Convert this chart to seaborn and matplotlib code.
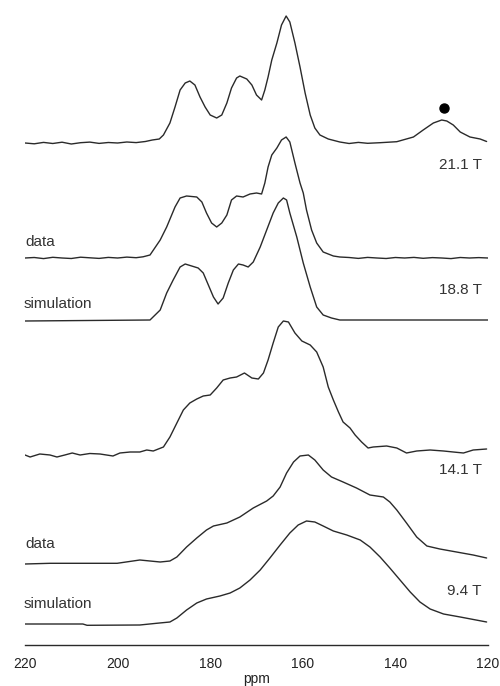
import numpy as np
import pandas as pd
import matplotlib
matplotlib.use("Agg")
import matplotlib.pyplot as plt
import seaborn as sns

# --- spectra (ppm, intensity above own baseline, arb. units) ---
ppm_211 = [220, 218, 216, 214, 212, 210, 208, 206, 204, 202, 200, 198, 196, 194, 192.5, 191,
           190.1, 188.7, 187.6, 186.5, 185.4, 184.4, 183.3, 182.2, 181.1, 180.0, 178.6, 177.5,
           176.4, 175.4, 174.3, 173.6, 172.1, 171.0, 170.0, 168.9, 168.2, 167.5, 166.7, 165.6,
           164.6, 163.6, 162.8, 161.7, 160.6, 159.5, 158.4, 157.4, 156.3, 154.5, 152.0, 150,
           148, 146, 143.3, 139.7, 136.1, 134.0, 131.8, 130.0, 128.9, 127.5, 126.0, 123.9,
           121.7, 120.3]
int_211 = [0, -0.8, 0.6, -0.5, 0.8, -1, 0.3, 0.9, -0.4, 0.5, 0, 1, 0.4, 1.5, 3, 4,
           8, 20, 36, 53, 60, 62, 58, 46, 36, 28, 25, 28,
           40, 55, 65, 67, 64, 58, 48, 43, 53, 66, 83, 100,
           118, 127, 121, 100, 76, 50, 28, 15, 8, 4, 1, -0.5,
           0.6, -0.3, 0.3, 1.3, 6, 13, 20, 23, 22, 18, 11, 6,
           4, 1.5]

ppm_188_data = [220, 218, 216, 214, 212, 210, 208, 206, 204, 202, 200, 198, 196, 194.5, 193.0,
                190.8, 189.4, 187.6, 186.5, 185.1, 182.9, 181.8, 180.8, 179.7, 178.6, 177.5,
                176.4, 175.4, 174.3, 172.9, 171.4, 170.0, 168.9, 168.2, 167.5, 166.7, 165.6,
                164.6, 163.6, 162.8, 161.7, 160.6, 159.9, 159.2, 158.1, 157.0, 155.6, 153.4,
                152.0, 150, 148, 146, 144, 142, 140, 138, 136, 134, 132, 130, 128, 126, 124,
                122, 120]
int_188_data = [0, 0.5, -0.6, 0.7, 0, -0.5, 0.8, 0.2, -0.4, 0.6, 0, 0.9, 0.3, 1.2, 3,
                18, 31, 51, 60, 62, 61, 56, 45, 35, 31, 35,
                43, 58, 62, 61, 64, 65, 64, 75, 91, 103, 110,
                118, 121, 116, 95, 75, 65, 48, 28, 15, 6, 2,
                1, 0.5, -0.4, 0.6, 0, -0.5, 0.5, 0, 0.6, -0.3, 0.4, 0, -0.6, 0.5, 0,
                0.4, 0]

ppm_188_sim = [220, 193.0, 190.8, 189.4, 188.0, 186.5, 185.4, 184.0, 182.6, 181.5, 180.4,
               179.3, 178.3, 177.2, 176.1, 175.0, 173.9, 172.9, 171.8, 170.7, 169.2, 167.8,
               166.4, 165.3, 164.2, 163.5, 162.8, 161.3, 159.9, 158.4, 157.0, 155.6, 153.8,
               152.0, 120]
int_188_sim = [0, 1, 11, 28, 41, 54, 57, 55, 53, 48, 36,
               24, 17, 23, 38, 51, 57, 56, 54, 59, 74, 91,
               108, 118, 123, 121, 108, 84, 58, 34, 14, 6, 3,
               1, 1]

ppm_141 = [220, 218.9, 216.8, 214.6, 213.1, 211.4, 209.8, 208.1, 206.0, 203.8, 201.0, 199.5,
           197.3, 195.2, 193.7, 192.3, 190.1, 188.7, 187.2, 185.8, 184.4, 182.9, 181.5, 180.0,
           178.6, 177.2, 175.7, 174.3, 172.6, 171.0, 169.6, 168.5, 167.5, 166.4, 165.3, 164.2,
           163.1, 161.7, 160.2, 158.4, 157.0, 155.6, 154.5, 153.4, 152.3, 151.3, 149.8, 148.7,
           147.3, 145.9, 144.8, 141.9, 139.7, 137.6, 135.4, 132.5, 129.6, 127.5, 125.3, 123.2,
           120.3]
int_141 = [0, -2, 1, 0, -2, 0, 2, 0, 1.5, 1, -1, 2,
           3, 3, 5, 4, 8, 18, 32, 45, 52, 56, 59, 60,
           67, 75, 77, 78, 82, 77, 76, 82, 95, 112, 128, 134,
           133, 122, 114, 110, 103, 88, 68, 55, 43, 33, 27, 20,
           13, 7, 8, 9, 7, 2, 4, 5, 4, 3, 2, 5,
           6]

ppm_94_data = [220, 214.6, 200.1, 195.2, 193.0, 190.8, 188.7, 187.2, 185.1, 182.9, 180.8,
               179.3, 176.4, 173.6, 170.7, 167.8, 166.4, 164.9, 163.5, 162.0, 160.6, 158.8,
               157.4, 155.6, 153.8, 151.3, 148.4, 145.5, 142.6, 141.2, 139.7, 137.6, 135.4,
               133.2, 130.4, 126.8, 123.2, 120.3]
int_94_data = [0, 0.7, 0.7, 4, 3, 2, 3, 7, 17, 26, 34,
               38, 41, 47, 56, 63, 68, 77, 91, 102, 108, 109,
               104, 94, 87, 82, 76, 69, 67, 62, 54, 41, 27,
               18, 15, 12, 9, 6]

ppm_94_sim = [220, 207.5, 206.6, 195.2, 191.6, 188.7, 187.2, 185.1, 182.9, 180.8, 177.9,
              175.7, 173.6, 171.4, 169.2, 167.1, 164.9, 162.8, 161.0, 159.2, 157.4, 155.6,
              153.4, 150.5, 147.6, 145.5, 143.3, 141.2, 139.0, 136.8, 134.7, 132.5, 129.6,
              126.0, 120.3]
int_94_sim = [0, 0, -1.3, -1, 0.7, 2, 6, 14, 21, 25, 28,
              31, 36, 44, 54, 66, 79, 91, 99, 103, 102, 98,
              93, 89, 84, 77, 67, 56, 44, 32, 22, 15, 10,
              7, 2]

field_labels = ["21.1 T", "18.8 T", "14.1 T", "9.4 T"]
dot_ppm, dot_int = 129.5, 35   # marked peak in the 21.1 T spectrum

# vertical stacking of the traces
spectra = [
    (ppm_211, int_211, 502),
    (ppm_188_data, int_188_data, 387),
    (ppm_188_sim, int_188_sim, 324),
    (ppm_141, int_141, 190),
    (ppm_94_data, int_94_data, 81),
    (ppm_94_sim, int_94_sim, 21),
]

sns.set_style("white")
plt.rcParams["font.family"] = ["Liberation Sans", "DejaVu Sans"]

fig = plt.figure(figsize=(5, 6.86), dpi=100)
ax = fig.add_axes([0.05, (686 - 645) / 686, 0.926, 645 / 686])

line_col = "#2a2a2a"
for ppm, inten, off in spectra:
    df = pd.DataFrame({"ppm": ppm, "y": np.array(inten) + off})
    sns.lineplot(data=df, x="ppm", y="y", ax=ax, color=line_col, lw=1.0,
                 estimator=None, sort=False)

ax.plot([dot_ppm], [502 + dot_int], "o", color="black", ms=6.5)

txt_col = "#333333"
fs = 11
ax.text(121.3, 480, field_labels[0], ha="right", va="center", fontsize=fs, color=txt_col)
ax.text(121.3, 355, field_labels[1], ha="right", va="center", fontsize=fs, color=txt_col)
ax.text(121.3, 175, field_labels[2], ha="right", va="center", fontsize=fs, color=txt_col)
ax.text(121.3, 54, field_labels[3], ha="right", va="center", fontsize=fs, color=txt_col)
ax.text(220, 403, "data", ha="left", va="center", fontsize=fs, color=txt_col)
ax.text(220.4, 341, "simulation", ha="left", va="center", fontsize=fs, color=txt_col)
ax.text(220, 101, "data", ha="left", va="center", fontsize=fs, color=txt_col)
ax.text(220.4, 41, "simulation", ha="left", va="center", fontsize=fs, color=txt_col)

ax.set_xlim(220, 120)
ax.set_ylim(0, 645)
ax.set_xticks([220, 200, 180, 160, 140, 120])
ax.set_xticks(np.arange(120, 221, 5), minor=True)
ax.set_yticks([])
ax.tick_params(axis="x", which="major", direction="in", length=6, width=1,
               color=line_col, labelsize=10, labelcolor="#222222", pad=9)
ax.tick_params(axis="x", which="minor", direction="in", length=3, width=1, color=line_col)
ax.set_xlabel("ppm", fontsize=10, color="#222222", labelpad=0)
ax.set_ylabel("")
for s in ["top", "left", "right"]:
    ax.spines[s].set_visible(False)
ax.spines["bottom"].set_color(line_col)
ax.spines["bottom"].set_linewidth(1)
ax.patch.set_alpha(0)

fig.savefig("out.png", dpi=100)
